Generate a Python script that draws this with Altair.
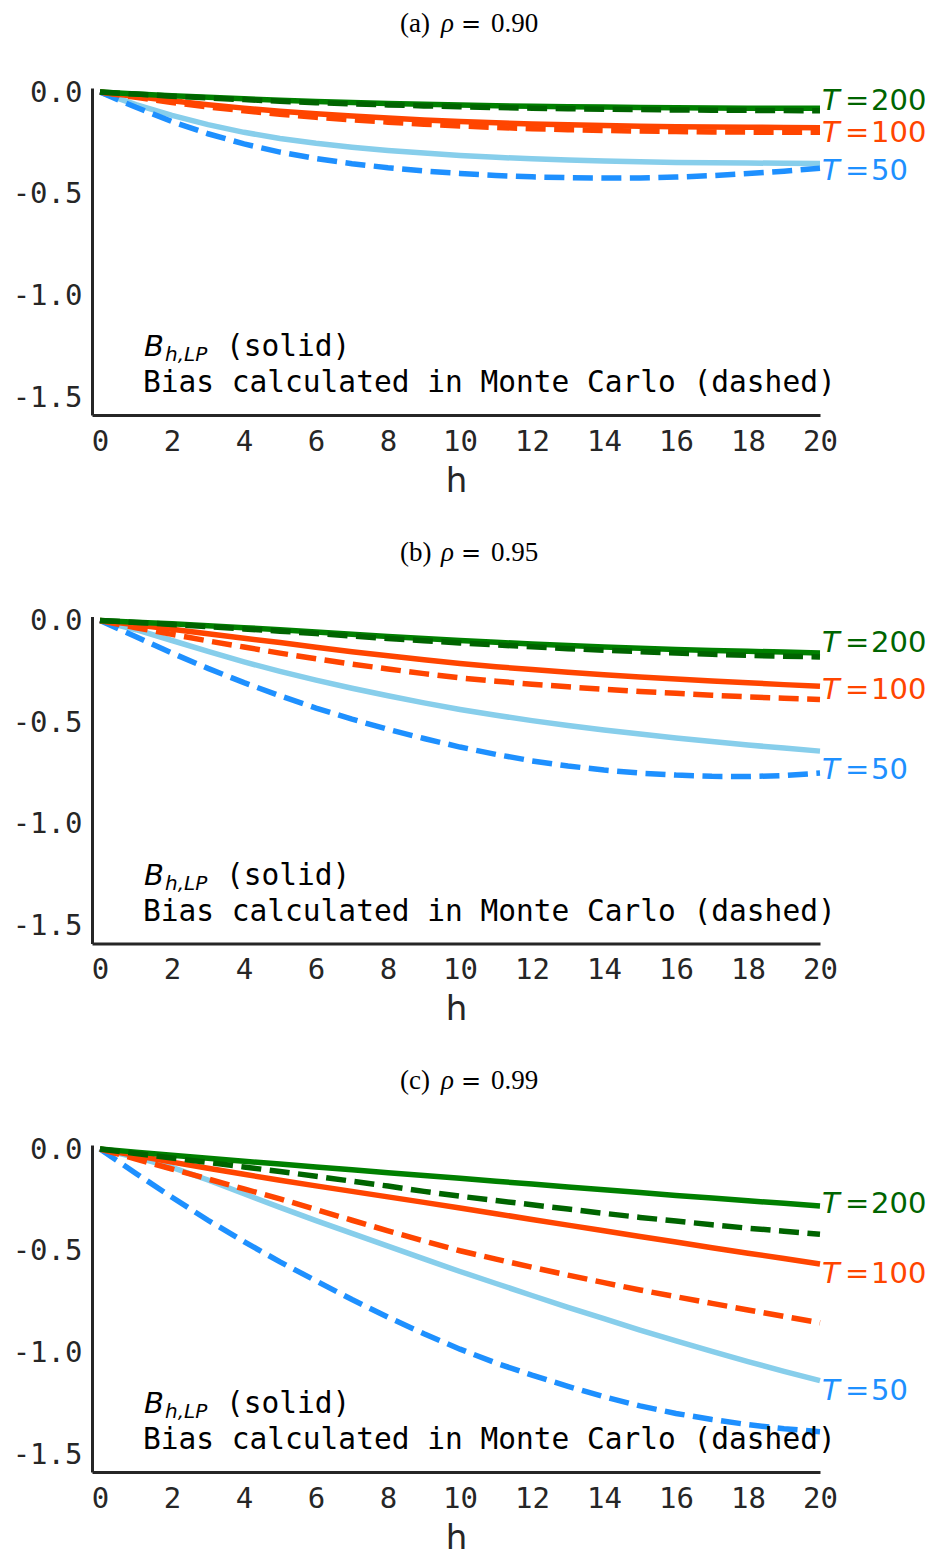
import altair as alt
import pandas as pd

# Horizons h = 0..20
horizons = list(range(21))
x_ticks = list(range(0, 21, 2))
y_ticks = [0.0, -0.5, -1.0, -1.5]

# rho = 0.90 : analytical LP bias (lp) and Monte Carlo bias (mc)
r90_t200_lp = [0, -0.009, -0.018, -0.026, -0.033, -0.040, -0.046, -0.051, -0.056, -0.060, -0.064,
               -0.067, -0.070, -0.072, -0.074, -0.076, -0.077, -0.078, -0.079, -0.080, -0.080]
r90_t200_mc = [0, -0.010, -0.020, -0.029, -0.037, -0.045, -0.052, -0.058, -0.063, -0.068, -0.072,
               -0.076, -0.079, -0.082, -0.084, -0.086, -0.088, -0.089, -0.090, -0.091, -0.092]
r90_t100_lp = [0, -0.022, -0.043, -0.062, -0.079, -0.094, -0.107, -0.118, -0.128, -0.137, -0.145,
               -0.151, -0.157, -0.161, -0.165, -0.168, -0.170, -0.172, -0.173, -0.174, -0.175]
r90_t100_mc = [0, -0.026, -0.051, -0.073, -0.092, -0.109, -0.124, -0.137, -0.148, -0.158, -0.167,
               -0.174, -0.180, -0.185, -0.189, -0.192, -0.194, -0.196, -0.197, -0.198, -0.198]
r90_t50_lp = [0, -0.062, -0.115, -0.160, -0.198, -0.228, -0.252, -0.271, -0.287, -0.300, -0.312,
              -0.321, -0.328, -0.334, -0.339, -0.343, -0.346, -0.348, -0.349, -0.350, -0.351]
r90_t50_mc = [0, -0.075, -0.145, -0.205, -0.255, -0.295, -0.327, -0.352, -0.372, -0.388, -0.400,
              -0.410, -0.417, -0.421, -0.423, -0.422, -0.418, -0.411, -0.401, -0.389, -0.375]
r90_label_y = [-0.045, -0.202, -0.387]

# rho = 0.95
r95_t200_lp = [0, -0.008, -0.016, -0.025, -0.035, -0.045, -0.056, -0.067, -0.078, -0.088, -0.098,
               -0.107, -0.115, -0.123, -0.130, -0.136, -0.142, -0.147, -0.151, -0.155, -0.159]
r95_t200_mc = [0, -0.009, -0.019, -0.030, -0.041, -0.052, -0.064, -0.076, -0.088, -0.099, -0.110,
               -0.120, -0.129, -0.138, -0.146, -0.153, -0.160, -0.166, -0.171, -0.175, -0.179]
r95_t100_lp = [0, -0.021, -0.043, -0.065, -0.087, -0.108, -0.131, -0.153, -0.173, -0.193, -0.211,
               -0.227, -0.241, -0.254, -0.266, -0.277, -0.287, -0.297, -0.306, -0.315, -0.323]
r95_t100_mc = [0, -0.035, -0.068, -0.100, -0.130, -0.160, -0.188, -0.214, -0.238, -0.261, -0.282,
               -0.298, -0.313, -0.326, -0.338, -0.349, -0.358, -0.367, -0.375, -0.382, -0.388]
r95_t50_lp = [0, -0.045, -0.098, -0.152, -0.203, -0.250, -0.293, -0.333, -0.370, -0.405, -0.437,
              -0.466, -0.492, -0.516, -0.538, -0.558, -0.577, -0.595, -0.612, -0.627, -0.642]
r95_t50_mc = [0, -0.080, -0.160, -0.235, -0.305, -0.370, -0.430, -0.485, -0.535, -0.580, -0.622,
              -0.658, -0.690, -0.715, -0.735, -0.750, -0.760, -0.766, -0.767, -0.762, -0.750]
r95_label_y = [-0.112, -0.340, -0.733]

# rho = 0.99
r99_t200_lp = [0, -0.015, -0.030, -0.045, -0.060, -0.074, -0.088, -0.102, -0.116, -0.130, -0.144,
               -0.158, -0.172, -0.186, -0.200, -0.214, -0.228, -0.241, -0.254, -0.267, -0.280]
r99_t200_mc = [0, -0.022, -0.044, -0.066, -0.088, -0.110, -0.134, -0.158, -0.182, -0.208, -0.232,
               -0.253, -0.274, -0.295, -0.316, -0.336, -0.354, -0.372, -0.389, -0.404, -0.419]
r99_t100_lp = [0, -0.032, -0.064, -0.094, -0.124, -0.153, -0.181, -0.208, -0.235, -0.262, -0.290,
               -0.318, -0.346, -0.374, -0.402, -0.430, -0.457, -0.485, -0.512, -0.538, -0.565]
r99_t100_mc = [0, -0.049, -0.098, -0.147, -0.196, -0.245, -0.297, -0.350, -0.402, -0.452, -0.500,
               -0.541, -0.581, -0.620, -0.657, -0.693, -0.726, -0.759, -0.791, -0.823, -0.854]
r99_t50_lp = [0, -0.040, -0.090, -0.152, -0.220, -0.287, -0.352, -0.415, -0.477, -0.540, -0.602,
              -0.661, -0.720, -0.778, -0.834, -0.890, -0.943, -0.995, -1.045, -1.093, -1.139]
r99_t50_mc = [0, -0.120, -0.237, -0.350, -0.455, -0.555, -0.648, -0.740, -0.827, -0.908, -0.984,
              -1.052, -1.112, -1.167, -1.218, -1.263, -1.300, -1.330, -1.355, -1.375, -1.390]
r99_label_y = [-0.270, -0.615, -1.188]

sample_sizes = ["200", "100", "50"]

# Styling
FONT_MONO = "DejaVu Sans Mono"
FONT_SANS = "DejaVu Sans"
FONT_SERIF = "Liberation Serif"
INK = "#262626"
SOLID = {"50": "#87CEEB", "100": "#FF4500", "200": "#008000"}
DASHED = {"50": "#1E90FF", "100": "#FF4500", "200": "#006400"}
LABEL = {"200": "#006400", "100": "#FF4500", "50": "#1E90FF"}
LINE_W = 5.5
DASH = [20, 8.5]

W, H = 728, 327
X_DOMAIN = [-0.222, 20]
Y_DOMAIN = [-1.588, 0.02]


def text_at(s, px, py, **kw):
    return (
        alt.Chart(pd.DataFrame({"s": [s]}))
        .mark_text(align="left", baseline="alphabetic", **kw)
        .encode(x=alt.value(px), y=alt.value(py), text="s:N")
    )


def panel(tag, rho, curves, label_y):
    rows = []
    for T, (lp, mc) in curves.items():
        for kind, vals in (("lp", lp), ("mc", mc)):
            for h, v in zip(horizons, vals):
                rows.append({"T": T, "kind": kind, "h": h, "bias": v})
    df = pd.DataFrame(rows)

    x = alt.X("h:Q", scale=alt.Scale(domain=X_DOMAIN, nice=False, zero=False),
              axis=alt.Axis(values=x_ticks, title="h", format="d"))
    y = alt.Y("bias:Q", scale=alt.Scale(domain=Y_DOMAIN, nice=False, zero=False),
              axis=alt.Axis(values=y_ticks, title=None,
                            labelExpr="replace(format(datum.value, '.1f'), '\u2212', '-')"))

    layers = []
    for T in ["50", "100", "200"]:
        for kind in ("lp", "mc"):
            props = dict(strokeWidth=LINE_W, strokeCap="butt")
            if kind == "lp":
                props["color"] = SOLID[T]
            else:
                props["color"] = DASHED[T]
                props["strokeDash"] = DASH
            layers.append(
                alt.Chart(df)
                .transform_filter((alt.datum.T == T) & (alt.datum.kind == kind))
                .mark_line(**props)
                .encode(x=x, y=y)
            )

    # End-of-line labels "T = ..."
    lab = pd.DataFrame({"T": sample_sizes, "h": [20] * 3, "bias": label_y})
    color = alt.Color("T:N", scale=alt.Scale(domain=sample_sizes,
                                             range=[LABEL[t] for t in sample_sizes]),
                      legend=None)
    label_mark = dict(font=FONT_SANS, fontSize=29, align="left", baseline="middle")
    layers.append(
        alt.Chart(lab).mark_text(fontStyle="italic", dx=2, **label_mark)
        .encode(x=x, y=y, text=alt.value("T"), color=color)
    )
    layers.append(
        alt.Chart(lab).mark_text(dx=25, **label_mark)
        .encode(x=x, y=y, text=alt.value("="), color=color)
    )
    layers.append(
        alt.Chart(lab).mark_text(dx=51, **label_mark)
        .encode(x=x, y=y, text="T:N", color=color)
    )

    # In-plot legend text
    layers.append(text_at("B", 52, 268, font=FONT_SANS, fontStyle="italic", fontSize=29, color="black"))
    layers.append(text_at("h,LP", 73, 273, font=FONT_SANS, fontStyle="italic", fontSize=20, color="black"))
    layers.append(text_at("(solid)", 134, 268, font=FONT_MONO, fontSize=29.5, color="black"))
    layers.append(text_at("Bias calculated in Monte Carlo (dashed)", 51, 304,
                          font=FONT_MONO, fontSize=29.5, color="black"))

    # Panel caption
    layers.append(text_at(tag, 308, -56, font=FONT_SERIF, fontSize=27, color="black"))
    layers.append(text_at("\u03c1", 349, -56, font=FONT_SERIF, fontStyle="italic", fontSize=27, color="black"))
    layers.append(text_at("=", 369, -56, font="DejaVu Serif", fontSize=24, color="black"))
    layers.append(text_at(rho, 399, -56, font=FONT_SERIF, fontSize=27, color="black"))

    return alt.layer(*layers).properties(width=W, height=H)


pa = panel("(a)", "0.90", {"200": (r90_t200_lp, r90_t200_mc), "100": (r90_t100_lp, r90_t100_mc),
                           "50": (r90_t50_lp, r90_t50_mc)}, r90_label_y)
pb = panel("(b)", "0.95", {"200": (r95_t200_lp, r95_t200_mc), "100": (r95_t100_lp, r95_t100_mc),
                           "50": (r95_t50_lp, r95_t50_mc)}, r95_label_y)
pc = panel("(c)", "0.99", {"200": (r99_t200_lp, r99_t200_mc), "100": (r99_t100_lp, r99_t100_mc),
                           "50": (r99_t50_lp, r99_t50_mc)}, r99_label_y)

chart = (
    alt.vconcat(pa, pb, pc, spacing=40.5)
    .properties(padding={"left": 12, "top": 10, "right": 0, "bottom": 0}, background="white")
    .configure_view(stroke=None)
    .configure_axis(domainColor=INK, domainWidth=3, ticks=False, grid=False,
                    labelFont=FONT_MONO, labelFontSize=29, labelColor=INK, labelPadding=10,
                    labelFlush=False, labelOverlap=False,
                    titleFont=FONT_SANS, titleFontSize=34, titleFontWeight="normal",
                    titleColor=INK, titlePadding=8)
    .configure_axisX(labelPadding=12)
)

chart.save("out.html", embed_options={"renderer": "svg", "actions": False})
